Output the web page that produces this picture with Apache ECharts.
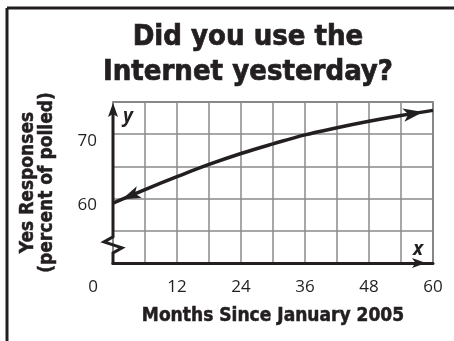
<!DOCTYPE html>
<html>
<head>
<meta charset="utf-8">
<script src="https://cdn.jsdelivr.net/npm/echarts@6/dist/echarts.min.js"></script>
<style>
  html, body { margin: 0; padding: 0; background: #ffffff; }
  #chart { width: 454px; height: 341px; }
</style>
</head>
<body>
<div id="chart"></div>
<script>
// Survey trend: share of people answering "yes" over time
const months = [0, 6, 12, 18, 24, 30, 36, 42, 48, 54, 60];
const yesPercent = [59.3, 61.4, 63.4, 65.3, 67.0, 68.5, 69.9, 71.0, 72.0, 72.9, 73.7];
const xTickLabels = [0, 12, 24, 36, 48, 60];
const yTickLabels = [60, 70];
const titleLines = ['Did you use the', 'Internet yesterday?'];
const xAxisTitle = 'Months Since January 2005';
const yAxisTitle = ['Yes Responses', '(percent of polled)'];

const INK = '#231f20';
const GRIDLINE = '#8a8a8a';
const HEAVY = '"DejaVu Sans Condensed", "Liberation Sans Narrow", sans-serif';
const LIGHT = '"Open Sans", "Noto Sans", sans-serif';

const chart = echarts.init(document.getElementById('chart'), null, { renderer: 'canvas' });

const baseOption = {
  animation: false,
  backgroundColor: '#ffffff',
  title: {
    text: titleLines.join('\n'),
    left: 248,
    textAlign: 'center',
    top: 20,
    padding: 0,
    textStyle: {
      fontFamily: HEAVY, fontWeight: 'bold', fontSize: 29, lineHeight: 35, color: INK,
      textBorderColor: INK, textBorderWidth: 0.7
    }
  },
  grid: {
    left: 113, right: 21, top: 102, bottom: 78,
    show: true, borderColor: '#555555', borderWidth: 1.5
  },
  xAxis: {
    type: 'value', min: 0, max: 60, interval: 6,
    name: xAxisTitle, nameLocation: 'middle', nameGap: 44,
    nameTextStyle: {
      fontFamily: HEAVY, fontWeight: 'bold', fontSize: 19, color: INK,
      textBorderColor: INK, textBorderWidth: 0.5
    },
    axisLine: {
      show: true, onZero: false,
      lineStyle: { color: INK, width: 3 },
      symbol: ['none', 'arrow'], symbolSize: [7.5, 14], symbolOffset: [0, -7]
    },
    axisTick: { show: false },
    splitLine: { show: true, lineStyle: { color: GRIDLINE, width: 1.5 } },
    axisLabel: {
      margin: 16, fontFamily: LIGHT, fontSize: 17, color: INK,
      formatter: v => {
        if (!xTickLabels.includes(v)) return '';
        return v === 0 ? '{o|0}' : String(v);
      },
      rich: { o: { fontFamily: LIGHT, fontSize: 17, color: INK, padding: [0, 40, 0, 0] } }
    }
  },
  yAxis: {
    type: 'value', min: 50, max: 75, interval: 5,
    name: yAxisTitle.join('\n'), nameLocation: 'middle', nameRotate: 90, nameGap: 56,
    nameTextStyle: {
      fontFamily: HEAVY, fontWeight: 'bold', fontSize: 19, lineHeight: 19, color: INK,
      textBorderColor: INK, textBorderWidth: 0.5
    },
    axisLine: { show: false },
    axisTick: { show: false },
    splitLine: { show: true, lineStyle: { color: GRIDLINE, width: 1.5 } },
    axisLabel: {
      margin: 16, color: INK,
      formatter: v => (yTickLabels.includes(v) ? '{t|' + v + '}' : ''),
      rich: { t: { fontFamily: LIGHT, fontSize: 17, color: INK, padding: [13, 0, 0, 0] } }
    }
  },
  series: [{
    type: 'line',
    data: months.map((m, i) => [m, yesPercent[i]]),
    smooth: 0.4,
    symbol: 'none',
    clip: false,
    lineStyle: { color: INK, width: 3.5 },
    z: 5
  }]
};

chart.setOption(baseOption);

// Arrowheads on both ends of the curve, oriented along the end segments
function arrowMark(tipIdx, prevIdx, size) {
  const tip = chart.convertToPixel({ gridIndex: 0 }, [months[tipIdx], yesPercent[tipIdx]]);
  const prev = chart.convertToPixel({ gridIndex: 0 }, [months[prevIdx], yesPercent[prevIdx]]);
  const dx = tip[0] - prev[0], dy = tip[1] - prev[1];
  const len = Math.hypot(dx, dy);
  const h = size[1];
  return {
    coord: [months[tipIdx], yesPercent[tipIdx]],
    symbol: 'arrow',
    symbolSize: size,
    symbolRotate: Math.atan2(-dx, -dy) * 180 / Math.PI,
    symbolOffset: [-dx / len * h / 2, -dy / len * h / 2],
    itemStyle: { color: INK },
    label: { show: false }
  };
}

// Vertical axis with a break near the bottom and an arrow at the top
const axTop = chart.convertToPixel({ gridIndex: 0 }, [0, 75]);
const axBottom = chart.convertToPixel({ gridIndex: 0 }, [0, 50]);
const ax = axTop[0];
const breakTop = chart.convertToPixel({ gridIndex: 0 }, [0, 54.05])[1];

chart.setOption({
  series: [{
    markPoint: {
      silent: true,
      data: [
        arrowMark(0, 1, [9.5, 19]),
        arrowMark(months.length - 1, months.length - 2, [10, 20])
      ]
    }
  }],
  graphic: [
    // page frame
    { type: 'line', z: 100, shape: { x1: 7, y1: 8, x2: 454, y2: 8 }, style: { stroke: INK, lineWidth: 3 } },
    { type: 'line', z: 100, shape: { x1: 7, y1: 8, x2: 7, y2: 341 }, style: { stroke: INK, lineWidth: 3 } },
    {
      type: 'polyline', z: 100,
      shape: {
        points: [
          [ax, axTop[1] + 10], [ax, breakTop], [ax - 9, breakTop + 5],
          [ax + 9, breakTop + 11], [ax, breakTop + 16], [ax, axBottom[1] + 1.5]
        ]
      },
      style: { stroke: INK, lineWidth: 3, fill: null, lineJoin: 'miter' }
    },
    {
      type: 'polygon', z: 101,
      shape: { points: [[ax, axTop[1] + 1], [ax + 5, axTop[1] + 15], [ax, axTop[1] + 12], [ax - 5, axTop[1] + 15]] },
      style: { fill: INK }
    },
    {
      type: 'text', z: 101, x: ax + 10, y: axTop[1] + 5,
      style: { text: 'y', fontFamily: LIGHT, fontStyle: 'italic', fontWeight: 'bold', fontSize: 19, fill: INK }
    },
    {
      type: 'text', z: 101, x: axBottom[0] + 305, y: axBottom[1] - 4,
      style: {
        text: 'x', fontFamily: LIGHT, fontStyle: 'italic', fontWeight: 'bold', fontSize: 19, fill: INK,
        align: 'center', verticalAlign: 'bottom'
      }
    }
  ]
});
</script>
</body>
</html>
